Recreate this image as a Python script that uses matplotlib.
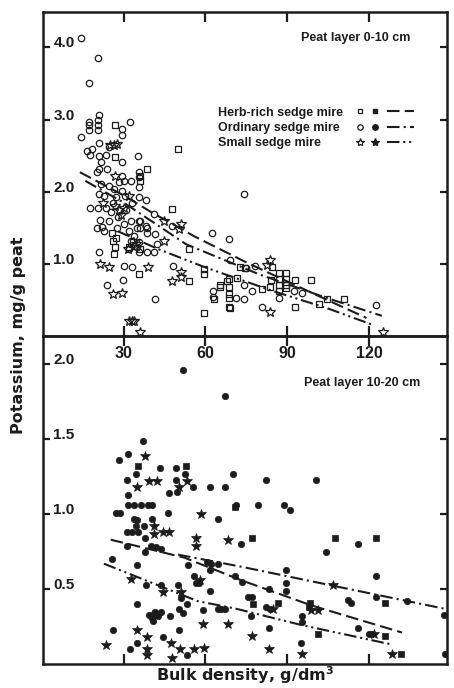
import numpy as np
import matplotlib
matplotlib.use("Agg")
import matplotlib.pyplot as plt
from matplotlib.lines import Line2D
from matplotlib.legend_handler import HandlerBase

# bulk density (g/dm3), potassium (mg/g peat) -- peat layer 0-10 cm
herb_top = np.array([
    (26.7, 2.93), (50, 2.59), (26.8, 2.48), (38.7, 2.31), (36.2, 2.22), (47.8, 1.76),
    (25.9, 1.43), (27.1, 1.36), (26.2, 1.32), (26.7, 1.23), (26.5, 1.13), (32, 1.23),
    (36.2, 1.2), (35.6, 0.86), (53.9, 0.76), (59.4, 0.86), (59.3, 0.93), (63.1, 0.51),
    (65.5, 0.71), (67.9, 0.76), (68.5, 0.58), (69.1, 0.39), (59.4, 0.32), (53.9, 1.2),
    (84.4, 0.96), (68.5, 0.79), (68.5, 0.68), (68.5, 0.53), (71.6, 0.8), (74.6, 0.94),
    (72.8, 0.95), (65.2, 0.68), (68.5, 0.4), (86.8, 0.87), (89.6, 0.87), (86.8, 0.79),
    (89.6, 0.79), (86.8, 0.71), (89.6, 0.71), (86.8, 0.63), (89.6, 0.66), (84, 0.77),
    (80.7, 0.65), (83.8, 0.68), (92.7, 0.77), (98.8, 0.77), (92.9, 0.4), (104.5, 0.51),
    (110.9, 0.51), (101.5, 0.45), (33.5, 1.3), (36, 2.15),
])
ord_top = np.array([
    (14.3, 4.13), (20.5, 3.85), (17.2, 3.5), (20.9, 3.06), (20.7, 2.99), (20.7, 2.92),
    (20.7, 2.85), (17.5, 2.96), (17.5, 2.92), (17.3, 2.86), (14.5, 2.76), (29.5, 2.87),
    (29.3, 2.79), (32.2, 2.96), (21, 2.68), (18.5, 2.59), (16.7, 2.57), (17.9, 2.51),
    (21, 2.5), (23.4, 2.51), (24.6, 2.62), (29.5, 2.41), (35.4, 2.5), (21.6, 2.41),
    (21, 2.31), (20.4, 2.27), (24, 2.31), (35.6, 2.27), (35.6, 2.2), (29.5, 2.22),
    (30.1, 2.15), (28.3, 2.13), (32.6, 2.15), (35.6, 2.06), (21.6, 2.1), (24.6, 2.08),
    (21, 1.97), (22.8, 1.94), (26.5, 2.04), (27.1, 1.92), (29.5, 2.01), (30.7, 1.94),
    (35.6, 1.93), (38.3, 1.88), (17.9, 1.78), (20.7, 1.77), (23.4, 1.77), (41.1, 1.69),
    (21.3, 1.61), (20.1, 1.5), (22.2, 1.51), (33.8, 1.25), (32.6, 1.32), (35.6, 1.3),
    (38.7, 1.16), (41.1, 1.16), (42.3, 1.27), (41.7, 1.41), (38.7, 1.5), (36, 1.5),
    (36.2, 1.6), (47.8, 1.53), (62.4, 1.43), (68.5, 1.34), (21, 1.16), (30.1, 0.97),
    (33.2, 0.96), (24, 0.71), (29.9, 0.77), (41.7, 0.51), (48.2, 0.97), (62.8, 0.63),
    (32.6, 1.6), (35.6, 1.6), (35, 1.5), (38.1, 1.53), (38.7, 1.43), (32, 1.2),
    (35, 1.23), (35.6, 1.16), (74.3, 1.97), (68.9, 1.06), (78, 0.97), (75, 0.94),
    (62.8, 0.54), (71.3, 0.52), (74.3, 0.51), (74.3, 0.71), (77.1, 0.62), (80.7, 0.4),
    (86.8, 0.52), (92.6, 0.63), (95.4, 0.59), (122.4, 0.43), (25.5, 1.72), (28, 1.65),
    (30, 1.55), (32, 1.45), (27.5, 1.5), (24.5, 1.6), (23, 1.45), (31, 1.75),
    (33, 1.85), (26, 1.85), (34, 1.38),
])
small_top = np.array([
    (26.5, 2.64), (27.7, 2.66), (25, 2.65), (27, 2.22), (32, 1.94), (31.6, 1.2),
    (34.4, 1.27), (44.8, 1.6), (50.9, 1.55), (50.2, 1.48), (44.8, 1.32), (21.3, 1.0),
    (24.6, 0.96), (38.9, 0.95), (26.2, 0.58), (29.5, 0.59), (47.8, 0.76), (50.9, 0.82),
    (51.2, 0.89), (32, 0.21), (33, 0.21), (33.8, 0.21), (36.2, 0.06), (83.8, 1.06),
    (82.6, 0.99), (83.8, 0.33), (125.2, 0.06), (28.5, 1.75), (30, 1.78), (27, 1.8),
    (29, 1.68), (22.5, 1.85),
])

# peat layer 10-20 cm
herb_bot = np.array([
    (35.3, 1.32), (52.9, 1.32), (71, 1.05), (77.1, 0.84), (107.3, 0.84), (122.3, 0.84),
    (77.4, 0.4), (86.4, 0.41), (98.3, 0.41), (97.9, 0.38), (101.3, 0.2), (125.6, 0.41),
    (125.6, 0.19), (131.7, 0.07),
])
ord_bot = np.array([
    (51.6, 1.96), (67.2, 1.79), (37.3, 1.49), (28.3, 1.36), (31.6, 1.40), (34.5, 1.27),
    (43.4, 1.31), (49.4, 1.31), (52.5, 1.27), (31.4, 1.23), (49.4, 1.23), (55.3, 1.18),
    (61.5, 1.18), (67.3, 1.18), (70, 1.27), (31.8, 1.13), (46.7, 1.14), (49.6, 1.15),
    (31.8, 1.06), (33.9, 1.06), (36.3, 1.06), (38.8, 1.06), (40.6, 1.06), (27.3, 1.01),
    (28.6, 1.01), (46.4, 1.01), (64.5, 0.97), (33.9, 0.97), (35.1, 0.96), (40.6, 0.97),
    (34.5, 0.92), (37.5, 0.92), (31.4, 0.88), (33.2, 0.88), (35.4, 0.88), (37.9, 0.84),
    (72.9, 0.8), (31.4, 0.79), (40, 0.79), (41.8, 0.78), (43.7, 0.77), (37.9, 0.75),
    (25.9, 0.7), (34.8, 0.66), (53.5, 0.66), (62.1, 0.67), (64.5, 0.67), (61.8, 0.63),
    (71, 0.59), (38.2, 0.53), (43.7, 0.53), (49.8, 0.53), (55.9, 0.59), (56.6, 0.54),
    (57.8, 0.54), (51, 0.44), (61.8, 0.49), (53.2, 0.4), (35.1, 0.4), (39.4, 0.33),
    (40.5, 0.31), (41.5, 0.35), (42.5, 0.32), (43.7, 0.35), (40.8, 0.29), (47.1, 0.32),
    (50.4, 0.37), (51.6, 0.34), (59, 0.36), (64.5, 0.37), (65.8, 0.37), (67, 0.37),
    (26.2, 0.23), (50.2, 0.23), (44.3, 0.18), (35.1, 0.14), (32.4, 0.1), (53.2, 0.06),
    (82.3, 1.23), (100.4, 1.23), (79.3, 1.06), (88.8, 1.06), (90.9, 1.03), (71.3, 1.06),
    (104.1, 0.75), (115.9, 0.8), (89.4, 0.63), (122.3, 0.59), (89.5, 0.54), (89.4, 0.49),
    (75.6, 0.45), (77.1, 0.45), (83.3, 0.5), (82.3, 0.38), (83.5, 0.37), (76.8, 0.32),
    (112.4, 0.43), (113.4, 0.41), (122.3, 0.45), (133.9, 0.42), (147.3, 0.33), (95.2, 0.32),
    (95.2, 0.28), (83.3, 0.24), (119.8, 0.2), (121, 0.2), (115.9, 0.24), (95, 0.14),
    (147.7, 0.07), (73.5, 0.55), (60.5, 0.68),
])
small_bot = np.array([
    (37.9, 1.39), (39.4, 1.22), (42.4, 1.22), (53.3, 1.22), (35.1, 1.18), (50.2, 1.18),
    (58.4, 1.0), (41.2, 0.92), (41, 0.87), (44.3, 0.88), (46.7, 0.88), (56.6, 0.84),
    (56.6, 0.79), (68.2, 0.83), (32.6, 0.57), (44.6, 0.48), (51, 0.48), (59, 0.27),
    (68.2, 0.27), (35.1, 0.23), (38.5, 0.18), (23.4, 0.13), (38.5, 0.1), (38.5, 0.06),
    (47.4, 0.14), (50.8, 0.1), (47.6, 0.04), (55.9, 0.1), (59.6, 0.11), (106.9, 0.53),
    (84.8, 0.37), (98.6, 0.36), (101.1, 0.36), (121.6, 0.2), (77.1, 0.19), (83.2, 0.1),
    (95.2, 0.07), (128.3, 0.07), (40.5, 0.33), (58, 0.56),
])

# fitted curves
herb_top_fit = np.array([(14, 2.27), (30, 1.95), (40, 1.72), (56, 1.38), (75, 1.02), (100, 0.58), (119, 0.25)])
ord_top_fit = np.array([(16, 2.15), (30, 1.85), (53, 1.27), (80, 0.85), (105, 0.52), (124.6, 0.28)])
small_top_fit = np.array([(28, 1.45), (43, 1.2), (60, 0.95), (85, 0.62), (105, 0.38), (121.6, 0.15)])
herb_bot_fit = np.array([(25.3, 0.83), (52.3, 0.71), (73, 0.56), (99, 0.39), (132, 0.21)])
ord_bot_fit = np.array([(50, 0.73), (73, 0.65), (107.4, 0.52), (147.3, 0.37)])
small_bot_fit = np.array([(22.8, 0.67), (57.1, 0.42), (71, 0.37), (95.2, 0.26), (128.3, 0.13)])

x_ticks = [30, 60, 90, 120]
top_yticks = [1.0, 2.0, 3.0, 4.0]
bot_yticks = [0.5, 1.0, 1.5, 2.0]
mire_names = ["Herb-rich sedge mire", "Ordinary sedge mire", "Small sedge mire"]

ink = "#1c1c1c"
plt.rcParams["font.family"] = ["Liberation Sans", "DejaVu Sans"]
plt.rcParams["font.weight"] = "bold"

styles = [
    dict(marker="s", ms=4.2, ls=(0, (6, 2.5))),
    dict(marker="o", ms=4.6, ls=(0, (6, 2, 1, 2))),
    dict(marker="*", ms=7.0, ls=(0, (6, 1.8, 1, 1.8, 1, 1.8))),
]


class MireHandler(HandlerBase):
    # open marker, filled marker, then a short piece of the fit line
    def create_artists(self, legend, orig_handle, xdescent, ydescent,
                       width, height, fontsize, trans):
        m_open, m_full, line = orig_handle
        y = height / 2 - ydescent
        a = Line2D([0.05 * width - xdescent], [y])
        a.update_from(m_open)
        b = Line2D([0.31 * width - xdescent], [y])
        b.update_from(m_full)
        c = Line2D([0.53 * width - xdescent, width - xdescent], [y, y])
        c.update_from(line)
        for art in (a, b, c):
            art.set_transform(trans)
        return [a, b, c]


fig = plt.figure(figsize=(4.54, 6.88), dpi=100)
ax1 = fig.add_axes([0.0947, 0.5116, 0.89, 0.4710])
ax2 = fig.add_axes([0.0947, 0.0349, 0.89, 0.4767], sharex=ax1)
ax2.patch.set_visible(False)

top_sets = [herb_top, ord_top, small_top]
bot_sets = [herb_bot, ord_bot, small_bot]
top_fits = [herb_top_fit, ord_top_fit, small_top_fit]
bot_fits = [herb_bot_fit, ord_bot_fit, small_bot_fit]

for st, pts, fit in zip(styles, top_sets, top_fits):
    ax1.plot(pts[:, 0], pts[:, 1], ls="none", marker=st["marker"], ms=st["ms"],
             mfc="none", mec=ink, mew=0.9)
    ax1.plot(fit[:, 0], fit[:, 1], color=ink, lw=1.5, ls=st["ls"])

for st, pts, fit in zip(styles, bot_sets, bot_fits):
    ax2.plot(pts[:, 0], pts[:, 1], ls="none", marker=st["marker"], ms=st["ms"],
             mfc=ink, mec=ink, mew=0.5)
    ax2.plot(fit[:, 0], fit[:, 1], color=ink, lw=1.5, ls=st["ls"])

ax1.set_xlim(0.5, 148.5)
ax1.set_ylim(0, 4.49)
ax2.set_ylim(0, 2.19)

for ax in (ax1, ax2):
    for sp in ax.spines.values():
        sp.set_linewidth(1.8)
        sp.set_color(ink)
    ax.set_xticks(x_ticks)
    ax.tick_params(axis="x", direction="in", length=7.5, width=1.6, color=ink,
                   top=True, bottom=True)
    ax.tick_params(axis="y", direction="in", length=5, width=1.6, color=ink,
                   left=True, right=True, pad=-7.5, labelsize=11, labelcolor=ink)

ax1.set_yticks(top_yticks)
ax1.set_yticklabels([f"{v:.1f}" for v in top_yticks])
ax2.set_yticks(bot_yticks)
ax2.set_yticklabels([f"{v:.1f}" for v in bot_yticks])
for ax in (ax1, ax2):
    for lab in ax.get_yticklabels():
        lab.set_horizontalalignment("left")
        lab.set_verticalalignment("baseline")

ax1.set_xticklabels([str(v) for v in x_ticks])
ax1.tick_params(axis="x", pad=7.5, labelsize=11.5, labelcolor=ink)
ax2.tick_params(axis="x", labelbottom=False)

ax1.text(0.908, 0.92, "Peat layer 0-10 cm", transform=ax1.transAxes,
         ha="right", va="center", fontsize=9, color=ink)
ax2.text(0.933, 0.857, "Peat layer 10-20 cm", transform=ax2.transAxes,
         ha="right", va="center", fontsize=9, color=ink)

# legend: names on the left, symbols in a second box to the right
handles = []
for st in styles:
    open_m = Line2D([], [], ls="none", marker=st["marker"], ms=st["ms"] * 0.85,
                    mfc="none", mec=ink, mew=0.9)
    full_m = Line2D([], [], ls="none", marker=st["marker"], ms=st["ms"] * 0.85,
                    mfc=ink, mec=ink)
    line = Line2D([], [], color=ink, lw=1.5, ls=st["ls"])
    handles.append((open_m, full_m, line))

blank = [Line2D([], [], ls="none") for _ in mire_names]
leg_kw = dict(loc="upper left", frameon=False, fontsize=9, labelspacing=0.27,
              borderaxespad=0, borderpad=0)
names_leg = ax1.legend(blank, mire_names, bbox_to_anchor=(0.433, 0.708),
                       handlelength=0, handletextpad=0, labelcolor=ink, **leg_kw)
ax1.add_artist(names_leg)
ax1.legend(handles, ["", "", ""], handler_map={tuple: MireHandler()},
           bbox_to_anchor=(0.777, 0.708), handlelength=4.6, handletextpad=0, **leg_kw)

fig.text(0.04, 1 - 335 / 688, "Potassium, mg/g peat", rotation=90, ha="center",
         va="center", fontsize=11.5, color=ink, fontfamily=["DejaVu Sans"])
fig.text(245 / 454, 1 - 675 / 688, "Bulk density, g/dm$^3$", ha="center",
         va="center", fontsize=11.5, color=ink, fontfamily=["DejaVu Sans"])

fig.savefig("out.png", dpi=100, facecolor="white")
